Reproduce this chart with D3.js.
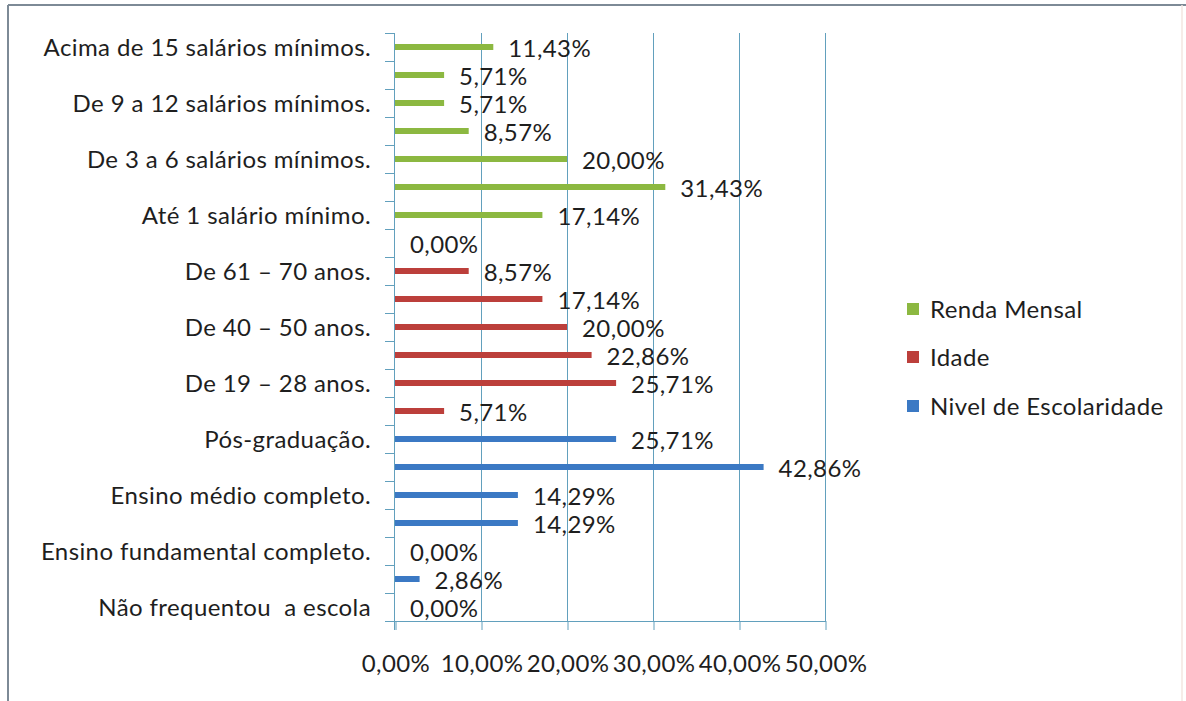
<!DOCTYPE html>
<html>
<head>
<meta charset="utf-8">
<script src="https://cdn.jsdelivr.net/npm/d3@7"></script>
<style>
  html, body { margin: 0; padding: 0; background: #ffffff; }
  svg { display: block; }
  text { font-family: Lato, "Open Sans", sans-serif; fill: #1e1e1e; letter-spacing: 0.4px; white-space: pre; }
</style>
</head>
<body>
<svg id="chart" width="1186" height="701"></svg>
<script>
// Categories listed bottom-to-top, one value per category
const escolaridadeCats = [
  "Não frequentou  a escola",
  "Ensino fundamental incompleto.",
  "Ensino fundamental completo.",
  "Ensino médio incompleto.",
  "Ensino médio completo.",
  "Ensino superior.",
  "Pós-graduação."
];
const escolaridadeVals = [0.0, 2.86, 0.0, 14.29, 14.29, 42.86, 25.71];

const idadeCats = [
  "Até 18 anos.",
  "De 19 – 28 anos.",
  "De 29 – 39 anos.",
  "De 40 – 50 anos.",
  "De 51 – 60 anos.",
  "De 61 – 70 anos.",
  "Acima de 70 anos."
];
const idadeVals = [5.71, 25.71, 22.86, 20.0, 17.14, 8.57, 0.0];

const rendaCats = [
  "Até 1 salário mínimo.",
  "De 1 a 3 salários mínimos.",
  "De 3 a 6 salários mínimos.",
  "De 6 a 9 salários mínimos.",
  "De 9 a 12 salários mínimos.",
  "De 12 a 15 salários mínimos.",
  "Acima de 15 salários mínimos."
];
const rendaVals = [17.14, 31.43, 20.0, 8.57, 5.71, 5.71, 11.43];

const seriesNames = ["Nivel de Escolaridade", "Idade", "Renda Mensal"];
const seriesColors = ["#3b79c4", "#bc3f3b", "#8cb841"];

const xTicks = [0, 10, 20, 30, 40, 50];

// Build rows (bottom-to-top order)
const rows = [];
[[escolaridadeCats, escolaridadeVals], [idadeCats, idadeVals], [rendaCats, rendaVals]]
  .forEach(([cats, vals], si) => {
    cats.forEach((c, i) => rows.push({ cat: c, value: vals[i], series: si }));
  });

const fmt = v => d3.format(".2f")(v).replace(".", ",") + "%";

const svg = d3.select("#chart");
const plotLeft = 395, plotRight = 825, plotTop = 33, plotBottom = 621;
const fontSize = 24;

const x = d3.scaleLinear().domain([0, 50]).range([plotLeft, plotRight]);
const y = d3.scaleBand()
  .domain(rows.map(d => d.cat))
  .range([plotBottom, plotTop])
  .paddingInner(0).paddingOuter(0);

// Chart area frame
svg.append("line").attr("x1", 8).attr("x2", 1186).attr("y1", 5).attr("y2", 5)
  .attr("stroke", "#7d8a96").attr("stroke-width", 2);
svg.append("line").attr("x1", 8).attr("x2", 8).attr("y1", 5).attr("y2", 701)
  .attr("stroke", "#7d8a96").attr("stroke-width", 2);
svg.append("line").attr("x1", 1182).attr("x2", 1182).attr("y1", 5).attr("y2", 701)
  .attr("stroke", "#f3e6e0").attr("stroke-width", 1.5);

const gridColor = "#62a0bd";

// Vertical gridlines
svg.append("g").selectAll("line")
  .data(xTicks.slice(1))
  .join("line")
  .attr("x1", d => x(d) + 0.5).attr("x2", d => x(d) + 0.5)
  .attr("y1", plotTop).attr("y2", plotBottom)
  .attr("stroke", gridColor).attr("stroke-width", 1);

// Bars
const barH = 6;
svg.append("g").selectAll("rect")
  .data(rows)
  .join("rect")
  .attr("x", x(0))
  .attr("y", d => y(d.cat) + y.bandwidth() / 2 - barH / 2)
  .attr("width", d => x(d.value) - x(0))
  .attr("height", barH)
  .attr("fill", d => seriesColors[d.series]);

// Value labels
svg.append("g").selectAll("text")
  .data(rows)
  .join("text")
  .attr("x", d => x(d.value) + 15)
  .attr("y", d => y(d.cat) + y.bandwidth() / 2 + 1)
  .attr("dy", "0.36em")
  .attr("font-size", fontSize)
  .text(d => fmt(d.value));

// X axis
const xAxis = d3.axisBottom(x)
  .tickValues(xTicks)
  .tickSize(9)
  .tickPadding(25)
  .tickFormat(d => fmt(d));
const gx = svg.append("g").attr("transform", `translate(0.5,${plotBottom})`).call(xAxis);
gx.select(".domain").remove();
gx.selectAll(".tick line").attr("stroke", gridColor);
gx.selectAll(".tick text").attr("font-size", fontSize).attr("fill", "#1e1e1e")
  .style("font-family", "Lato, 'Open Sans', sans-serif");
svg.append("line")
  .attr("x1", plotLeft - 10).attr("x2", plotRight + 1)
  .attr("y1", plotBottom + 0.5).attr("y2", plotBottom + 0.5)
  .attr("stroke", gridColor);

// Y axis: labels on every other category, ticks at band boundaries
const yAxis = d3.axisLeft(y)
  .tickValues(rows.filter((d, i) => i % 2 === 0).map(d => d.cat))
  .tickSize(0)
  .tickPadding(24);
const gy = svg.append("g").attr("transform", `translate(${plotLeft},1)`).call(yAxis);
gy.select(".domain").remove();
gy.selectAll(".tick text").attr("font-size", fontSize).attr("fill", "#1e1e1e")
  .style("font-family", "Lato, 'Open Sans', sans-serif");

svg.append("line")
  .attr("x1", plotLeft - 0.5).attr("x2", plotLeft - 0.5)
  .attr("y1", plotTop).attr("y2", plotBottom + 9)
  .attr("stroke", gridColor);
const bounds = rows.map(d => y(d.cat));
svg.append("g").selectAll("line")
  .data(bounds)
  .join("line")
  .attr("x1", plotLeft - 10).attr("x2", plotLeft)
  .attr("y1", d => Math.round(d) + 0.5).attr("y2", d => Math.round(d) + 0.5)
  .attr("stroke", gridColor);

// Legend (Renda Mensal on top)
const legendOrder = [2, 1, 0];
const legendY = [309, 357, 406];
const lg = svg.append("g");
legendOrder.forEach((si, i) => {
  lg.append("rect")
    .attr("x", 907).attr("y", legendY[i] - 6)
    .attr("width", 12).attr("height", 12)
    .attr("fill", seriesColors[si]);
  lg.append("text")
    .attr("x", 930).attr("y", legendY[i])
    .attr("dy", "0.36em")
    .attr("font-size", fontSize)
    .text(seriesNames[si]);
});
</script>
</body>
</html>
